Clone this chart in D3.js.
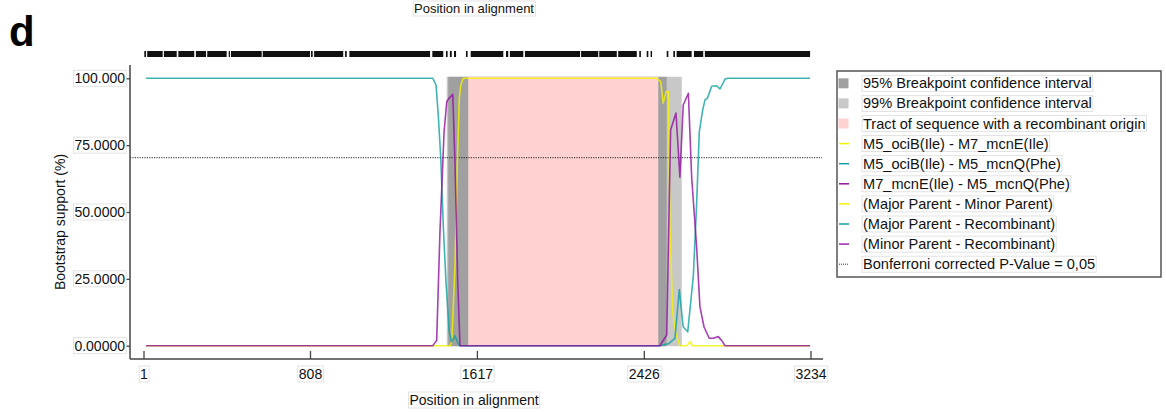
<!DOCTYPE html>
<html>
<head>
<meta charset="utf-8">
<script src="https://cdn.jsdelivr.net/npm/d3@7/dist/d3.min.js"></script>
<style>
  html, body { margin: 0; padding: 0; background: #fff; }
  svg { display: block; font-family: "Liberation Sans", Arial, sans-serif; }
</style>
</head>
<body>
<svg id="chart" width="1166" height="412"></svg>
<script>
// ---- data -------------------------------------------------------------
const xTicks = [1, 808, 1617, 2426, 3234];
const yTicks = [0, 25, 50, 75, 100];
const yTickLabels = ["0.00000", "25.0000", "50.0000", "75.0000", "100.000"];

// Breakpoint confidence intervals and recombinant tract (alignment positions)
const ci99 = [1471, 2610];
const ci95 = [1478, 2537];
const tract = [1575, 2496];
const bonferroni = 70.3;

// Bootstrap support along the alignment, [position, %]
const seriesA = [ // M5_ociB(Ile) - M7_mcnE(Ile)
  [13, 0], [1487, 0], [1495, 1.5], [1511, 30], [1522, 67.6], [1532, 93],
  [1539, 97.5], [1551, 100], [2488, 100], [2508, 98.8], [2520, 90.7],
  [2534, 95], [2545, 95], [2553, 44.5], [2566, 12], [2582, 4.4], [2601, 0],
  [2634, 0], [2650, 1.5], [2663, 0], [3232, 0]
];
const seriesB = [ // M5_ociB(Ile) - M5_mcnQ(Phe)
  [13, 100], [1403, 100], [1419, 97.5], [1430, 86], [1442, 70], [1454, 45],
  [1467, 24], [1483, 5], [1495, 1.5], [1511, 3.7], [1524, 1], [1535, 0],
  [2504, 0], [2545, 0.7], [2577, 2.7], [2598, 21], [2617, 7], [2639, 5.2],
  [2666, 26], [2682, 53], [2695, 80], [2711, 88], [2723, 92], [2734, 92.5],
  [2755, 97], [2779, 97.2], [2795, 96], [2820, 99.7], [2834, 100], [3232, 100]
];
const seriesC = [ // M7_mcnE(Ile) - M5_mcnQ(Phe)
  [13, 0], [1403, 0], [1422, 2], [1438, 42.6], [1458, 80], [1471, 91.3],
  [1483, 92.6], [1500, 94], [1511, 68], [1524, 24], [1535, 0], [2504, 0],
  [2537, 4], [2556, 80.7], [2582, 87], [2601, 63], [2617, 90], [2642, 94.4],
  [2658, 63], [2682, 37], [2698, 14.6], [2718, 7], [2743, 2.8], [2763, 2.8],
  [2787, 3.4], [2803, 2], [2820, 0], [3232, 0]
];

// Informative sites, as runs [from, to]
const siteRuns = [
  [5, 13], [19, 94], [100, 162], [170, 247], [255, 304], [310, 404], [414, 420],
  [425, 574], [579, 808], [813, 821], [828, 969], [978, 986], [999, 1390],
  [1401, 1454], [1467, 1475], [1486, 1495], [1506, 1516], [1564, 1572],
  [1587, 1745], [1758, 1769], [1777, 1842], [1850, 2117], [2122, 2205],
  [2210, 2295], [2302, 2392], [2404, 2412], [2440, 2448], [2459, 2466],
  [2537, 2545], [2569, 2577], [2585, 2658], [2669, 2714], [2722, 3232]
];

const legendItems = [
  { label: "95% Breakpoint confidence interval", kind: "box", color: "#a0a0a0" },
  { label: "99% Breakpoint confidence interval", kind: "box", color: "#c8c8c8" },
  { label: "Tract of sequence with a recombinant origin", kind: "box", color: "#ffd2d2" },
  { label: "M5_ociB(Ile) - M7_mcnE(Ile)", kind: "line", color: "#f2f200" },
  { label: "M5_ociB(Ile) - M5_mcnQ(Phe)", kind: "line", color: "#10a0a0" },
  { label: "M7_mcnE(Ile) - M5_mcnQ(Phe)", kind: "line", color: "#9010a0" },
  { label: "(Major Parent - Minor Parent)", kind: "line", color: "#f2f200" },
  { label: "(Major Parent - Recombinant)", kind: "line", color: "#10a0a0" },
  { label: "(Minor Parent - Recombinant)", kind: "line", color: "#a020b0" },
  { label: "Bonferroni corrected P-Value = 0,05", kind: "dot", color: "#333" }
];

// ---- drawing ----------------------------------------------------------
const svg = d3.select("#chart");
const x = d3.scaleLinear().domain([1, 3234]).range([143.5, 810.5]);
const y = d3.scaleLinear().domain([0, 100]).range([345.7, 78.3]);
const axisColor = "#444";

// small framed box behind a text element
function boxed(sel, pad = 1) {
  sel.each(function () {
    const b = this.getBBox();
    d3.select(this.parentNode).insert("rect", () => this)
      .attr("x", b.x - pad).attr("y", b.y)
      .attr("width", b.width + 2 * pad).attr("height", b.height)
      .attr("fill", "#fff").attr("stroke", "#dcdcdc").attr("stroke-width", 0.8);
  });
}

// panel letter and title of the panel above
svg.append("text").attr("x", 9).attr("y", 46)
  .attr("font-size", 42).attr("font-weight", "bold").attr("fill", "#000").text("d");
const topG = svg.append("g");
topG.append("text").attr("x", 474).attr("y", 13).attr("text-anchor", "middle")
  .attr("font-size", 13).attr("fill", "#111").text("Position in alignment").call(boxed);

// informative sites bar
svg.append("g").selectAll("rect").data(siteRuns).join("rect")
  .attr("x", d => x(d[0])).attr("width", d => Math.max(1.2, x(d[1]) - x(d[0])))
  .attr("y", 51).attr("height", 6).attr("fill", "#111");

// shaded regions
const shade = svg.append("g");
const shadeTop = y(100) - 1.5, shadeBottom = y(0) + 0.5;
shade.append("rect").attr("x", x(ci99[0])).attr("width", x(ci99[1]) - x(ci99[0]))
  .attr("y", shadeTop).attr("height", shadeBottom - shadeTop).attr("fill", "#c8c8c8");
shade.append("rect").attr("x", x(ci95[0])).attr("width", x(ci95[1]) - x(ci95[0]))
  .attr("y", shadeTop).attr("height", shadeBottom - shadeTop).attr("fill", "#a0a0a0");
shade.append("rect").attr("x", x(tract[0])).attr("width", x(tract[1]) - x(tract[0]))
  .attr("y", shadeTop).attr("height", shadeBottom - shadeTop).attr("fill", "#ffd2d2");

// Bonferroni threshold
svg.append("line").attr("x1", 130).attr("x2", 822).attr("y1", y(bonferroni)).attr("y2", y(bonferroni))
  .attr("stroke", "#222").attr("stroke-width", 1).attr("stroke-dasharray", "1.2,1.2");

// bootstrap support lines
const line = d3.line().x(d => x(d[0])).y(d => y(d[1]));
[[seriesA, "#f2f200"], [seriesB, "#10a0a0"], [seriesC, "#9010a0"]].forEach(([s, c]) => {
  svg.append("path").datum(s).attr("d", line).attr("fill", "none")
    .attr("stroke", c).attr("stroke-width", 1.6).attr("stroke-opacity", 0.8)
    .attr("stroke-linejoin", "round");
});

// axes
const yAxis = svg.append("g").attr("transform", "translate(130,0)")
  .call(d3.axisLeft(y).tickValues(yTicks).tickFormat((d, i) => yTickLabels[i]).tickSize(4).tickPadding(1));
yAxis.select(".domain").attr("d", "M0,65V359").attr("stroke", axisColor).attr("stroke-width", 1.5);
yAxis.selectAll(".tick line").attr("stroke", axisColor).attr("stroke-width", 1.3);
yAxis.selectAll(".tick text").attr("font-size", 14).attr("fill", "#111")
  .attr("font-family", "Liberation Sans, Arial, sans-serif").call(boxed);

const xAxis = svg.append("g").attr("transform", "translate(0,359)")
  .call(d3.axisBottom(x).tickValues(xTicks).tickFormat(d3.format("d")).tickSize(-8).tickPadding(10));
xAxis.select(".domain").attr("d", "M130,0H823").attr("stroke", axisColor).attr("stroke-width", 1.5);
xAxis.selectAll(".tick line").attr("stroke", axisColor).attr("stroke-width", 1.3);
xAxis.selectAll(".tick text").attr("font-size", 14).attr("fill", "#111")
  .attr("font-family", "Liberation Sans, Arial, sans-serif").call(boxed);

// axis titles
svg.append("g").append("text").attr("x", 474).attr("y", 405).attr("text-anchor", "middle")
  .attr("font-size", 14).attr("fill", "#111").text("Position in alignment").call(boxed);
svg.append("g").append("text").attr("transform", "translate(65,222) rotate(-90)")
  .attr("text-anchor", "middle").attr("font-size", 14).attr("fill", "#111")
  .text("Bootstrap support (%)");

// legend
const lg = svg.append("g");
lg.append("rect").attr("x", 837).attr("y", 71).attr("width", 324).attr("height", 206)
  .attr("fill", "#fff").attr("stroke", "#555").attr("stroke-width", 1.5);
legendItems.forEach((it, i) => {
  const cy = 83.3 + i * 20.1;
  const g = lg.append("g");
  if (it.kind === "box") {
    g.append("rect").attr("x", 838.5).attr("y", cy - 5).attr("width", 10).attr("height", 10).attr("fill", it.color);
  } else if (it.kind === "line") {
    g.append("line").attr("x1", 839).attr("x2", 849).attr("y1", cy).attr("y2", cy)
      .attr("stroke", it.color).attr("stroke-width", 1.5);
  } else {
    g.append("line").attr("x1", 839).attr("x2", 849).attr("y1", cy).attr("y2", cy)
      .attr("stroke", it.color).attr("stroke-width", 1).attr("stroke-dasharray", "1,1");
  }
  g.append("text").attr("x", 863).attr("y", cy + 5).attr("font-size", 14.6).attr("fill", "#111")
    .text(it.label).call(boxed);
});
</script>
</body>
</html>
